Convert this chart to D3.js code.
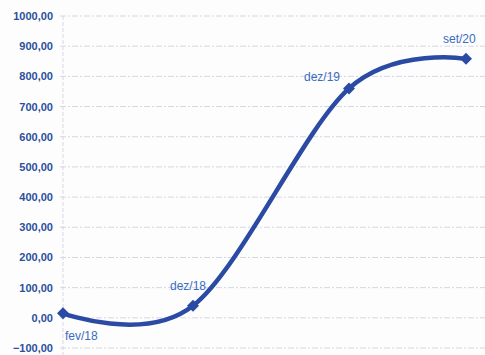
<!DOCTYPE html>
<html>
<head>
<meta charset="utf-8">
<script src="https://cdn.jsdelivr.net/npm/d3@7"></script>
<style>
  body { margin: 0; background: #fdfdfe; }
  svg { display: block; }
</style>
</head>
<body>
<script>
// data
var labels = ["fev/18", "dez/18", "dez/19", "set/20"];
var months = [0, 10, 22, 31];          // months since fev/18
var values = [15, 40, 760, 858];
var yTicks = [-100, 0, 100, 200, 300, 400, 500, 600, 700, 800, 900, 1000];

var width = 485, height = 355;
var margin = {top: 16, right: 19, bottom: 7, left: 63};

var svg = d3.select("body").append("svg")
    .attr("width", width)
    .attr("height", height);

var x = d3.scaleLinear().domain([0, 31]).range([margin.left, width - margin.right]);
var y = d3.scaleLinear().domain([-100, 1000]).range([height - margin.bottom, margin.top]);

var fmt = function (d) { return d3.format(".2f")(d).replace(".", ","); };

// gridlines
svg.append("g")
    .selectAll("line")
    .data(yTicks)
    .enter().append("line")
    .attr("x1", margin.left - 3)
    .attr("x2", width)
    .attr("y1", function (d) { return y(d); })
    .attr("y2", function (d) { return y(d); })
    .attr("stroke", "#d6d6e2")
    .attr("stroke-width", 1)
    .attr("stroke-dasharray", "6,2,2,2");

// vertical axis line
svg.append("line")
    .attr("x1", margin.left).attr("x2", margin.left)
    .attr("y1", y(1000)).attr("y2", height)
    .attr("stroke", "#d6d6e2")
    .attr("stroke-dasharray", "4,2");

// y axis labels
var yAxis = d3.axisLeft(y).tickValues(yTicks).tickFormat(fmt).tickSize(0).tickPadding(10);
var ga = svg.append("g")
    .attr("transform", "translate(" + margin.left + ",0)")
    .call(yAxis);
ga.select(".domain").remove();
ga.selectAll("text")
    .attr("fill", "#2b4f9c")
    .style("font-family", "Liberation Sans, Arial, sans-serif")
    .style("font-size", "11px")
    .style("font-weight", "bold");

var pts = months.map(function (m, i) { return {m: m, v: values[i], label: labels[i]}; });

var line = d3.line()
    .x(function (d) { return x(d.m); })
    .y(function (d) { return y(d.v); })
    .curve(d3.curveCardinal.tension(0));

svg.append("path")
    .datum(pts)
    .attr("d", line)
    .attr("fill", "none")
    .attr("stroke", "#2a4aa3")
    .attr("stroke-width", 4.5)
    .attr("stroke-linecap", "round");

// diamond markers, a bit wider than tall
svg.append("g")
    .selectAll("path")
    .data(pts)
    .enter().append("path")
    .attr("d", "M0,-6L6,0L0,6L-6,0Z")
    .attr("transform", function (d) { return "translate(" + x(d.m) + "," + y(d.v) + ")"; })
    .attr("fill", "#2a4aa3");

// point labels
var offs = [[2, 27], [-23, -16], [-45, -7], [-23, -16]];
svg.append("g")
    .selectAll("text")
    .data(pts)
    .enter().append("text")
    .attr("x", function (d, i) { return x(d.m) + offs[i][0]; })
    .attr("y", function (d, i) { return y(d.v) + offs[i][1]; })
    .text(function (d) { return d.label; })
    .attr("fill", "#3a6cc0")
    .style("font-family", "Liberation Sans, Arial, sans-serif")
    .style("font-size", "12px");
</script>
</body>
</html>
